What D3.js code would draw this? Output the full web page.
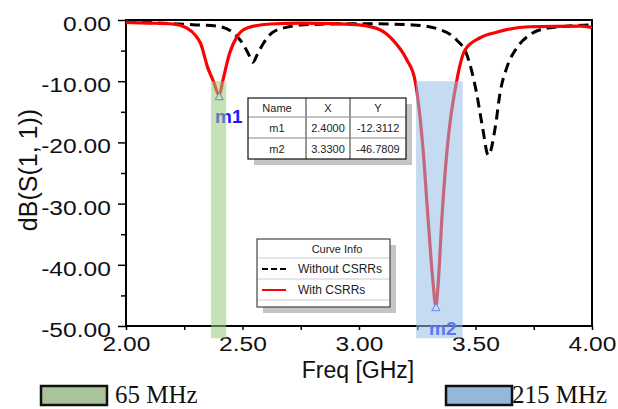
<!DOCTYPE html>
<html>
<head>
<meta charset="utf-8">
<script src="https://cdn.jsdelivr.net/npm/d3@7"></script>
<style>
  body { margin: 0; background: #fff; }
  svg { display: block; font-family: "Liberation Sans", Arial, sans-serif; }
</style>
</head>
<body>
<svg id="chart" width="618" height="409"></svg>
<script>
// --- data ---
const withFreq = [2.00, 2.10, 2.20, 2.26, 2.30, 2.32, 2.35, 2.375, 2.40, 2.415, 2.445, 2.475, 2.52, 2.62, 2.75, 2.90, 3.00, 3.09, 3.146, 3.205, 3.24, 3.275, 3.296, 3.318, 3.33, 3.34, 3.356, 3.378, 3.42, 3.455, 3.52, 3.59, 3.73, 3.95, 4.00];
const withDb   = [-0.4, -0.5, -0.65, -1.3, -2.6, -3.8, -7.7, -10.0, -12.3, -10.0, -5.4, -2.8, -1.3, -0.65, -0.5, -0.6, -0.8, -1.6, -3.3, -6.5, -9.8, -21.2, -32.2, -43.0, -46.8, -43.0, -32.2, -21.2, -9.8, -4.9, -2.9, -2.0, -1.1, -1.0, -1.2];

const withoutFreq = [2.00, 2.20, 2.30, 2.39, 2.46, 2.50, 2.525, 2.545, 2.565, 2.59, 2.63, 2.70, 2.75, 3.00, 3.23, 3.35, 3.42, 3.46, 3.505, 3.53, 3.555, 3.585, 3.605, 3.635, 3.68, 3.73, 3.81, 3.90, 4.00];
const withoutDb   = [-0.3, -0.6, -0.8, -1.0, -2.1, -3.8, -5.5, -6.9, -5.5, -3.8, -2.0, -1.1, -0.8, -0.6, -0.8, -1.6, -3.3, -5.4, -12.0, -17.5, -22.1, -17.5, -12.0, -7.7, -4.4, -2.5, -1.3, -1.0, -0.8];

const xTicks = [2.0, 2.5, 3.0, 3.5, 4.0];
const yTicks = [0, -10, -20, -30, -40, -50];

const markerNames = ["m1", "m2"];
const markerX = [2.4, 3.33];
const markerY = [-12.3112, -46.7809];

const bandNames = ["65 MHz", "215 MHz"];
const bandFrom = [2.365, 3.245];
const bandTo = [2.43, 3.445];

const seriesNames = ["Without CSRRs", "With CSRRs"];

// --- layout ---
const svg = d3.select("#chart");
const x = d3.scaleLinear().domain([2, 4]).range([126, 592]);
const y = d3.scaleLinear().domain([0, -50]).range([20, 326]);
const stretch = 1.17; // tick labels look horizontally stretched

// axes
const yAxis = d3.axisLeft(y).tickValues(d3.range(0, -55, -5)).tickSize(8).tickSizeOuter(0)
  .tickFormat(d => yTicks.includes(d) ? d.toFixed(2) : "");
const gy = svg.append("g").attr("transform", "translate(126,0)").call(yAxis);
gy.select(".domain").remove();
gy.selectAll(".tick line").attr("stroke", "#000").attr("stroke-width", 1.5)
  .attr("x2", (d) => d % 10 === 0 ? -8 : -5);
gy.selectAll(".tick text").attr("font-size", 21).attr("fill", "#111")
  .attr("x", -13).attr("dy", "0.5em").attr("transform", `scale(${stretch},1)`);

const xAxis = d3.axisBottom(x).tickValues(d3.range(2, 4.01, 0.25)).tickSize(4).tickSizeOuter(0)
  .tickFormat(d => xTicks.some(t => Math.abs(t - d) < 1e-6) ? d.toFixed(2) : "");
const gx = svg.append("g").attr("transform", "translate(0,326)").call(xAxis);
gx.select(".domain").remove();
gx.selectAll(".tick line").attr("stroke", "#000").attr("stroke-width", 1.5);
gx.selectAll(".tick text").attr("font-size", 21).attr("fill", "#111")
  .attr("y", 10).attr("transform", `scale(${stretch},1)`);

// frame
svg.append("rect").attr("x", 126).attr("y", 20).attr("width", 466).attr("height", 306)
  .attr("fill", "none").attr("stroke", "#000").attr("stroke-width", 2);

// titles
svg.append("text").attr("x", 358).attr("y", 378).attr("text-anchor", "middle")
  .attr("font-size", 23).attr("fill", "#111").text("Freq [GHz]");
svg.append("text").attr("transform", "translate(37,170) rotate(-90)").attr("text-anchor", "middle")
  .attr("font-size", 25).attr("fill", "#111").text("dB(S(1, 1))");

// curves
const line = d3.line().x(d => x(d[0])).y(d => y(d[1])).curve(d3.curveMonotoneX);
svg.append("path").datum(d3.zip(withoutFreq, withoutDb)).attr("d", line)
  .attr("fill", "none").attr("stroke", "#000").attr("stroke-width", 3)
  .attr("stroke-dasharray", "10,6");
svg.append("path").datum(d3.zip(withFreq, withDb)).attr("d", line)
  .attr("fill", "none").attr("stroke", "#f00").attr("stroke-width", 3.2);

// markers
const tri = d3.symbol().type(d3.symbolTriangle).size(30);
markerNames.forEach((m, i) => {
  svg.append("path").attr("d", tri)
    .attr("transform", `translate(${x(markerX[i])},${y(markerY[i]) + 2})`)
    .attr("fill", "#fff").attr("stroke", "#3344ff").attr("stroke-width", 1);
});
svg.append("text").attr("x", 215).attr("y", 123).attr("font-size", 19).attr("font-weight", "bold")
  .attr("fill", "#1a1aff").text(markerNames[0]);
svg.append("text").attr("x", 429).attr("y", 335).attr("font-size", 19).attr("font-weight", "bold")
  .attr("fill", "#1a1aff").text(markerNames[1]);

// bands (semi-transparent, on top)
const bandColors = ["rgb(150,200,120)", "rgb(150,190,230)"];
bandNames.forEach((b, i) => {
  svg.append("rect").attr("x", x(bandFrom[i])).attr("y", y(-10))
    .attr("width", x(bandTo[i]) - x(bandFrom[i])).attr("height", y(-52) - y(-10))
    .attr("fill", bandColors[i]).attr("opacity", 0.55);
});

// marker table
const tb = svg.append("g").attr("transform", "translate(248,98)");
const colW = [58, 44, 56], rowH = [19, 21, 21];
const tw = d3.sum(colW), th = d3.sum(rowH);
tb.append("rect").attr("x", 6).attr("y", 6).attr("width", tw).attr("height", th).attr("fill", "#c4c4c4");
tb.append("rect").attr("width", tw).attr("height", th).attr("fill", "#fff");
const rows = [["Name", "X", "Y"]].concat(markerNames.map((m, i) => [m, markerX[i].toFixed(4), markerY[i].toFixed(4)]));
let yy = 0;
rows.forEach((r, ri) => {
  let xx = 0;
  r.forEach((c, ci) => {
    tb.append("text").attr("x", xx + colW[ci] / 2).attr("y", yy + rowH[ri] / 2 + 4)
      .attr("text-anchor", "middle").attr("font-size", 11).attr("fill", "#222").text(c);
    xx += colW[ci];
    if (ci < 2) tb.append("line").attr("x1", xx).attr("x2", xx).attr("y1", 0).attr("y2", th)
      .attr("stroke", "#888");
  });
  yy += rowH[ri];
  if (ri < 2) tb.append("line").attr("x1", 0).attr("x2", tw).attr("y1", yy).attr("y2", yy).attr("stroke", "#888");
});
tb.append("rect").attr("width", tw).attr("height", th).attr("fill", "none").attr("stroke", "#111").attr("stroke-width", 1.2);

// curve info legend
const lg = svg.append("g").attr("transform", "translate(257,239)");
const lw = 133, lh = 68;
lg.append("rect").attr("x", 6).attr("y", 6).attr("width", lw).attr("height", lh).attr("fill", "#c4c4c4");
lg.append("rect").attr("width", lw).attr("height", lh).attr("fill", "#fff");
lg.append("text").attr("x", 80).attr("y", 14).attr("text-anchor", "middle").attr("font-size", 11)
  .attr("fill", "#222").text("Curve Info");
[19, 40, 61].forEach(v => lg.append("line").attr("x1", 0).attr("x2", lw).attr("y1", v).attr("y2", v).attr("stroke", "#ccc"));
const lgStroke = ["#000", "#f00"], lgDash = ["6,3", null];
seriesNames.forEach((s, i) => {
  const cy = 30 + i * 21;
  lg.append("line").attr("x1", 5).attr("x2", 29).attr("y1", cy).attr("y2", cy)
    .attr("stroke", lgStroke[i]).attr("stroke-width", 2).attr("stroke-dasharray", lgDash[i]);
  lg.append("text").attr("x", 41).attr("y", cy + 4).attr("font-size", 12).attr("fill", "#222").text(s);
});
lg.append("rect").attr("width", lw).attr("height", lh).attr("fill", "none").attr("stroke", "#444").attr("stroke-width", 1.2);

// bottom band legend
const swatchFill = ["#a9c49a", "#94b8d9"];
const swatchX = [41, 446];
const labelX = [115, 512];
bandNames.forEach((b, i) => {
  svg.append("rect").attr("x", swatchX[i]).attr("y", 386).attr("width", 66).attr("height", 19)
    .attr("fill", swatchFill[i]).attr("stroke", "#111").attr("stroke-width", 2.5);
  svg.append("text").attr("x", labelX[i]).attr("y", 403).attr("font-size", 25)
    .attr("font-family", "'Liberation Serif', 'DejaVu Serif', serif").attr("fill", "#111").text(b);
});
</script>
</body>
</html>
